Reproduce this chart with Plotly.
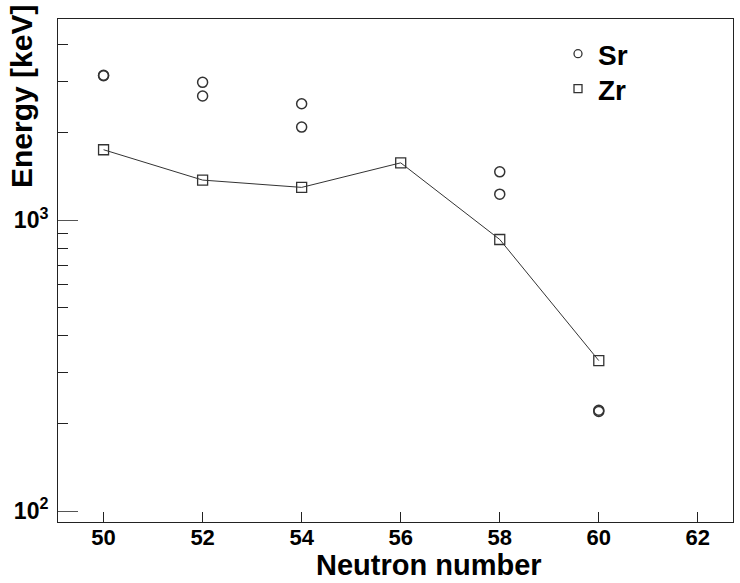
import plotly.graph_objects as go

# Excitation energies versus neutron number
sr_neutrons = [50, 50, 52, 52, 54, 54, 58, 58, 60, 60]
sr_energy = [3146, 3135, 2976, 2671, 2513, 2089, 1466, 1228, 222, 220]

zr_neutrons = [50, 52, 54, 56, 58, 60]
zr_energy = [1746, 1373, 1296, 1574, 858, 329]

x_ticks = [50, 52, 54, 56, 58, 60, 62]
y_major = [100, 1000]
y_major_text = ["10<sup>2</sup>", "10<sup>3</sup>"]
y_minor = [200, 300, 400, 500, 600, 700, 800, 900, 2000, 3000, 4000]

ink = "#222222"
font_family = "Liberation Sans, Arial, sans-serif"

# plot-area geometry in pixels (for placing titles and legend entries)
PL, PR, PT, PB = 58, 733, 19, 522
PW, PH = PR - PL, PB - PT

fig = go.Figure()

# Zr: squares joined by a line
fig.add_trace(go.Scatter(
    x=zr_neutrons, y=zr_energy, mode="lines+markers",
    line=dict(color="#333333", width=1),
    marker=dict(symbol="square-open", size=10, color="#333333",
                line=dict(width=1.3, color="#333333")),
    showlegend=False,
))

# Sr: open circles
fig.add_trace(go.Scatter(
    x=sr_neutrons, y=sr_energy, mode="markers",
    marker=dict(symbol="circle-open", size=10, color="#333333",
                line=dict(width=1.5, color="#333333")),
    showlegend=False,
))

# Legend entries (symbols only), one legend box each
fig.add_trace(go.Scatter(
    x=[None], y=[None], mode="markers", name="Sr", legend="legend",
    marker=dict(symbol="circle-open", size=8, color="#333333",
                line=dict(width=1.3, color="#333333")),
))
fig.add_trace(go.Scatter(
    x=[None], y=[None], mode="markers", name="Zr", legend="legend2",
    marker=dict(symbol="square-open", size=8, color="#333333",
                line=dict(width=1.3, color="#333333")),
))

legend_style = dict(
    xanchor="left", yanchor="middle",
    bgcolor="rgba(0,0,0,0)", borderwidth=0,
    font=dict(size=28, weight="bold", family=font_family),
    itemsizing="trace",
)

fig.update_layout(
    width=740, height=583,
    margin=dict(l=PL, r=740 - PR, t=PT, b=583 - PB),
    paper_bgcolor="white", plot_bgcolor="white",
    font=dict(family=font_family, color="black"),
    legend=dict(x=(558 - PL) / PW, y=(PB - 54) / PH, **legend_style),
    legend2=dict(x=(558 - PL) / PW, y=(PB - 89) / PH, **legend_style),
)

fig.update_xaxes(
    range=[49.08, 62.71],
    tickmode="array", tickvals=x_ticks,
    ticks="inside", ticklen=10, tickwidth=1, tickcolor=ink,
    ticklabelstandoff=-4,
    showline=True, linecolor=ink, linewidth=1, mirror=True,
    showgrid=False, zeroline=False,
    tickfont=dict(size=22, weight="bold", family=font_family),
)

fig.update_yaxes(
    type="log",
    range=[1.9624, 3.6914],
    tickmode="array", tickvals=y_major, ticktext=y_major_text,
    ticks="inside", ticklen=20, tickwidth=1, tickcolor="#555555",
    ticklabelstandoff=4,
    minor=dict(tickmode="array", tickvals=y_minor, ticks="inside",
               ticklen=10, tickwidth=1, tickcolor=ink, showgrid=False),
    showline=True, linecolor=ink, linewidth=1, mirror=True,
    showgrid=False, zeroline=False,
    tickfont=dict(size=23, weight="bold", family=font_family),
)

# Axis titles
fig.add_annotation(
    text="Neutron number", xref="paper", yref="paper",
    x=(429 - PL) / PW, y=(PB - 565) / PH, xanchor="center", yanchor="middle",
    showarrow=False,
    font=dict(size=29, weight="bold", family=font_family),
)
fig.add_annotation(
    text="Energy [keV]", xref="paper", yref="paper",
    x=(22 - PL) / PW, y=(PB - 97) / PH, xanchor="center", yanchor="middle",
    textangle=-90, showarrow=False,
    font=dict(size=30, weight="bold", family=font_family),
)

fig.write_html("out.html")
